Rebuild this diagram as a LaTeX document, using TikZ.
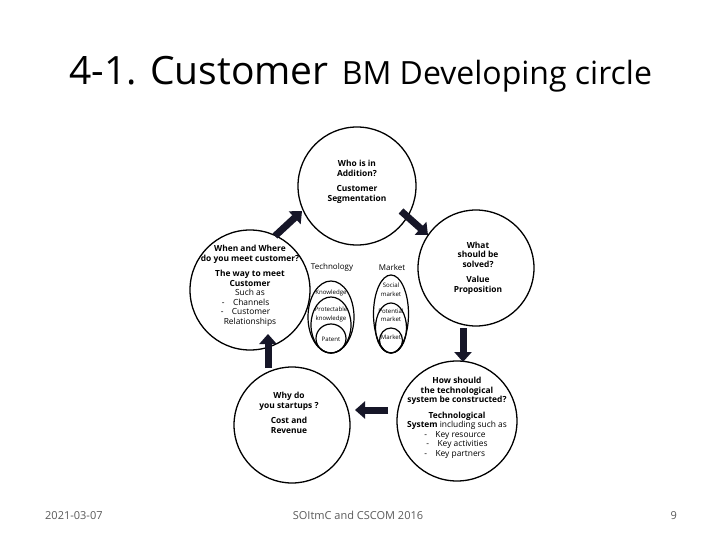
\documentclass[tikz,border=0pt]{standalone}
\usepackage{fontspec}
\setmainfont{Open Sans}
\usetikzlibrary{arrows.meta,shapes.geometric}
\definecolor{arrowc}{RGB}{22,22,40}
\definecolor{footc}{RGB}{90,90,90}
\begin{document}
\begin{tikzpicture}[x=1pt,y=-1pt,
  bubble/.style={circle,draw,line width=1.3pt,minimum size=#1,inner sep=0pt},
  qtext/.style={align=center,font=\fontsize{8.4}{9.5}\selectfont,inner sep=0pt},
  small/.style={align=center,font=\fontsize{6.1}{8.5}\selectfont,inner sep=0pt},
  oval/.style={ellipse,draw,line width=1.2pt,inner sep=0pt},
  blockarrow/.style={line width=7pt,draw=arrowc,-{Triangle[length=10pt,width=17pt]}},
  foot/.style={font=\fontsize{11}{11}\selectfont,text=footc,inner sep=0pt}]
\fill[white] (0,0) rectangle (720,540);
\useasboundingbox (0,0) rectangle (720,540);

% title
\node[anchor=base west,inner sep=0pt] (title) at (69,85)
 {{\fontsize{39}{39}\selectfont 4-1. Customer}\hspace{13pt}{\fontsize{32}{32}\selectfont BM Developing circle}};

% circles
\node[bubble=118pt] (top) at (357,186) {};
\node[bubble=116pt] (right) at (476,268) {};
\node[bubble=120pt] (bright) at (457,421) {};
\node[bubble=116pt] (bleft) at (292,425) {};
\node[bubble=120pt] (left) at (250,290) {};

% texts
\node[qtext] (ttop) at (357,182) {\textbf{Who is in}\\\textbf{Addition?}\\[6pt]\textbf{Customer}\\\textbf{Segmentation}};
\node[qtext] (tright) at (478,268) {\textbf{What}\\\textbf{should be}\\\textbf{solved?}\\[6pt]\textbf{Value}\\\textbf{Proposition}};
\node[qtext] (tbright) at (457,418) {\textbf{How should}\\\textbf{the technological}\\\textbf{system be constructed?}\\[6pt]\textbf{Technological}\\\textbf{System} including such as\\-\quad Key resource\phantom{s}\\-\quad Key activities\\-\quad Key partners\phantom{x}};
\node[qtext] (tbleft) at (289,413) {\textbf{Why do}\\\textbf{you startups ?}\\[6pt]\textbf{Cost and}\\\textbf{Revenue}};
\node[qtext] (tleft) at (250,286) {\textbf{When and Where}\\\textbf{do you meet customer?}\\[6pt]\textbf{The way to meet}\\\textbf{Customer}\\Such as\\-\quad Channels\phantom{xx}\\-\quad Customer\phantom{xx}\\Relationships};

% technology / market ovals
\node[font=\fontsize{8}{9}\selectfont,inner sep=0pt] (tech) at (332,267) {Technology};
\node[font=\fontsize{8}{9}\selectfont,inner sep=0pt] (mkt) at (392,267) {Market};
\node[oval,minimum width=46pt,minimum height=72pt] (know) at (331,317) {};
\node[oval,minimum width=40pt,minimum height=56pt] (prot) at (331,325) {};
\node[oval,minimum width=30pt,minimum height=29pt] (pat) at (331,338.5) {};
\node[oval,minimum width=35pt,minimum height=78pt] (soc) at (391,314) {};
\node[oval,minimum width=31pt,minimum height=50pt] (pot) at (391,328) {};
\node[oval,minimum width=23pt,minimum height=25pt] (mk) at (391,340.5) {};
\node[small] (lknow) at (331,293) {Knowledge};
\node[small] (lprot) at (331,314.5) {Protectable\\knowledge};
\node[small] (lpat) at (331,339) {Patent};
\node[small] (lsoc) at (391,289.5) {Social\\market};
\node[small] (lpot) at (391,315) {Potential\\market};
\node[small] (lmk) at (391,337) {Market};

% arrows
\coordinate (a1s) at (275,236); \coordinate (a1e) at (302,211);
\coordinate (a2s) at (401,211); \coordinate (a2e) at (428,235);
\coordinate (a3s) at (463,328); \coordinate (a3e) at (463,362);
\coordinate (a4s) at (388,410); \coordinate (a4e) at (355,410);
\coordinate (a5s) at (268,368); \coordinate (a5e) at (268,334);
\draw[blockarrow] (a1s) -- (a1e);
\draw[blockarrow] (a2s) -- (a2e);
\draw[blockarrow] (a3s) -- (a3e);
\draw[blockarrow] (a4s) -- (a4e);
\draw[blockarrow] (a5s) -- (a5e);

% footer
\node[foot,anchor=base west] (date) at (45,519) {2021-03-07};
\node[foot,anchor=base] (conf) at (358,519) {SOItmC and CSCOM 2016};
\node[foot,anchor=base east] (page) at (677,519) {9};
\end{tikzpicture}
\end{document}
